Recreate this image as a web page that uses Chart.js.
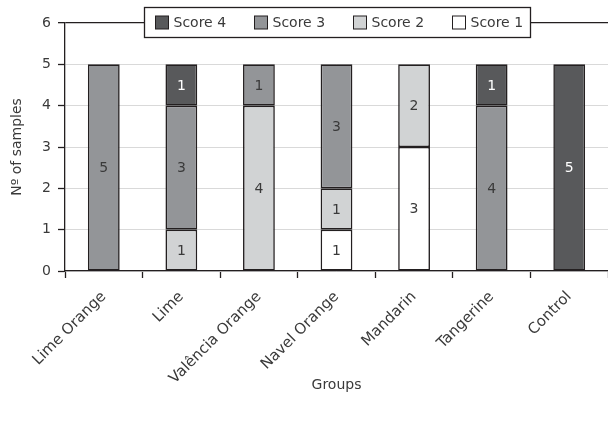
<!DOCTYPE html>
<html>
<head>
<meta charset="utf-8">
<script src="https://cdn.jsdelivr.net/npm/chart.js@4.4.1/dist/chart.umd.min.js"></script>
<style>
  html, body { margin: 0; padding: 0; background: #fff; }
  canvas { display: block; }
</style>
</head>
<body>
<canvas id="chart" width="608" height="428"></canvas>
<script>
// Dados do gráfico
const groups = ["Lime Orange", "Lime", "Valência Orange", "Navel Orange", "Mandarin", "Tangerine", "Control"];
const score1 = [null, null, null, 1, 3, null, null];
const score2 = [null, 1, 4, 1, 2, null, null];
const score3 = [5, 3, 1, 3, null, 4, null];
const score4 = [null, 1, null, null, null, 1, 5];
const yTicks = [0, 1, 2, 3, 4, 5, 6];

const FONT = "'DejaVu Sans', sans-serif";
const INK = "#231f20";
const TEXT = "#3a3a3a";

// Rótulos de valores dentro das barras
const valueLabels = {
  id: "valueLabels",
  afterDatasetsDraw(chart) {
    const ctx = chart.ctx;
    ctx.save();
    ctx.font = "14px " + FONT;
    ctx.textAlign = "center";
    ctx.textBaseline = "middle";
    chart.data.datasets.forEach((ds, i) => {
      const meta = chart.getDatasetMeta(i);
      meta.data.forEach((bar, j) => {
        const v = ds.data[j];
        if (v === null) return;
        ctx.fillStyle = ds.label === "Score 4" ? "#ffffff" : TEXT;
        ctx.fillText(String(v), bar.x, (bar.y + bar.base) / 2 + 1);
      });
    });
    ctx.restore();
  },
};

// Legenda desenhada à mão, sobre a linha do topo
const boxLegend = {
  id: "boxLegend",
  afterDraw(chart) {
    const ctx = chart.ctx;
    const area = chart.chartArea;
    ctx.save();
    ctx.font = "14px " + FONT;
    const items = chart.data.datasets.slice().reverse();
    const sq = 13, gapText = 5, gapItem = 28, padX = 10;
    let total = 0;
    items.forEach((ds, k) => {
      total += sq + gapText + ctx.measureText(ds.label).width;
      if (k < items.length - 1) total += gapItem;
    });
    const w = Math.round(total + padX * 2);
    const h = 30;
    const cx = (area.left + area.right) / 2;
    const x0 = Math.round(cx - w / 2) + 0.5;
    const y0 = 7.5;
    ctx.fillStyle = "#ffffff";
    ctx.fillRect(x0, y0, w, h);
    ctx.strokeStyle = INK;
    ctx.lineWidth = 1.3;
    ctx.strokeRect(x0, y0, w, h);
    let x = Math.round(x0 + padX) + 0.5;
    const midY = y0 + h / 2;
    items.forEach((ds) => {
      ctx.fillStyle = ds.backgroundColor;
      ctx.fillRect(x, midY - sq / 2, sq, sq);
      ctx.strokeStyle = INK;
      ctx.lineWidth = 1;
      ctx.strokeRect(x, midY - sq / 2, sq, sq);
      ctx.fillStyle = TEXT;
      ctx.textBaseline = "middle";
      ctx.textAlign = "left";
      ctx.fillText(ds.label, x + sq + gapText, midY + 1);
      x += Math.round(sq + gapText + ctx.measureText(ds.label).width + gapItem);
    });
    ctx.restore();
  },
};

const barStyle = {
  borderColor: INK,
  borderWidth: 1.6,
  borderSkipped: false,
  barPercentage: 0.41,
  categoryPercentage: 1,
};

new Chart(document.getElementById("chart").getContext("2d"), {
  type: "bar",
  data: {
    labels: groups,
    datasets: [
      { label: "Score 1", data: score1, backgroundColor: "#ffffff", ...barStyle },
      { label: "Score 2", data: score2, backgroundColor: "#d1d3d4", ...barStyle },
      { label: "Score 3", data: score3, backgroundColor: "#939598", ...barStyle },
      { label: "Score 4", data: score4, backgroundColor: "#58595b", ...barStyle },
    ],
  },
  options: {
    responsive: false,
    animation: false,
    layout: { padding: { top: 23, right: 0, bottom: 34, left: 0 } },
    plugins: {
      legend: { display: false },
      tooltip: { enabled: false },
    },
    scales: {
      x: {
        stacked: true,
        grid: {
          display: true,
          drawOnChartArea: false,
          drawTicks: true,
          tickLength: 7,
          tickColor: INK,
          tickWidth: 1.3,
        },
        border: { display: true, color: INK, width: 1.3 },
        ticks: {
          maxRotation: 45,
          minRotation: 45,
          autoSkip: false,
          color: TEXT,
          font: { family: FONT, size: 15 },
          padding: 10,
        },
        title: {
          display: true,
          text: "Groups",
          color: TEXT,
          font: { family: FONT, size: 14 },
          padding: { top: 0, bottom: 0 },
        },
        afterFit(scale) {
          scale.height = 123;
          scale.paddingLeft = 0;
          scale.paddingRight = 0;
        },
      },
      y: {
        stacked: true,
        min: 0,
        max: 6,
        afterBuildTicks(scale) {
          scale.ticks = yTicks.map((v) => ({ value: v }));
        },
        grid: {
          color: (c) => (c.tick && c.tick.value === 6 ? INK : "#d9d9d9"),
          lineWidth: (c) => (c.tick && c.tick.value === 6 ? 1.3 : 1),
          tickLength: 7,
          tickColor: INK,
          tickWidth: 1.3,
        },
        border: { display: true, color: INK, width: 1.3 },
        ticks: {
          color: TEXT,
          font: { family: FONT, size: 14 },
          padding: 7,
        },
        title: {
          display: true,
          text: "Nº of samples",
          color: TEXT,
          font: { family: FONT, size: 14 },
          padding: { top: 9, bottom: 0 },
        },
        afterFit(scale) {
          scale.width = 65;
        },
      },
    },
  },
  plugins: [valueLabels, boxLegend],
});
</script>
</body>
</html>
